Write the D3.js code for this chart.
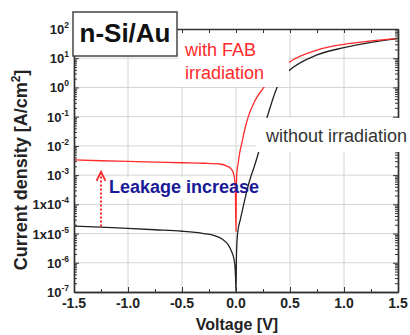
<!DOCTYPE html>
<html>
<head>
<meta charset="utf-8">
<script src="https://cdn.jsdelivr.net/npm/d3@7"></script>
<style>
  html, body { margin: 0; padding: 0; background: #fff; }
  svg text { font-family: "Liberation Sans", Arial, sans-serif; }
</style>
</head>
<body>
<svg id="chart" width="410" height="335"></svg>
<script>
// J–V curves of the n-Si/Au junction, |J| on a log axis
const voltageFab = [-1.5, -1.25, -1.0, -0.75, -0.5, -0.3, -0.15, -0.08, -0.05, -0.025, -0.012, -0.005, 0,
  0.003, 0.008, 0.02, 0.035, 0.053, 0.08, 0.114, 0.15, 0.18, 0.244, 0.3, 0.4, 0.5, 0.75, 1.0, 1.25, 1.5];
const currentFab = [3.3e-3, 3.1e-3, 2.95e-3, 2.8e-3, 2.65e-3, 2.55e-3, 2.4e-3, 2.0e-3, 1.7e-3, 1.2e-3, 7e-4, 2e-4, 1.2e-5,
  3e-4, 1.2e-3, 2.5e-3, 6e-3, 1.2e-2, 3.5e-2, 0.1, 0.22, 0.38, 0.86, 1.6, 3.8, 7.6, 19, 30, 39, 48];

const voltageRef = [-1.5, -1.25, -1.0, -0.75, -0.5, -0.3, -0.2, -0.13, -0.07, -0.04, -0.02, -0.01, -0.004, 0,
  0.004, 0.01, 0.02, 0.04, 0.062, 0.09, 0.114, 0.14, 0.17, 0.206, 0.25, 0.29, 0.33, 0.377, 0.43, 0.5, 0.75, 1.0, 1.25, 1.5];
const currentRef = [1.8e-5, 1.65e-5, 1.5e-5, 1.35e-5, 1.2e-5, 1.0e-5, 8.5e-6, 6.5e-6, 4e-6, 2.4e-6, 1.4e-6, 8e-7, 3e-7, 1e-7,
  1.5e-6, 6e-6, 1.4e-5, 3e-5, 7e-5, 2e-4, 4.5e-4, 9.5e-4, 2e-3, 5.5e-3, 2.4e-2, 0.1, 0.3, 0.93, 2.2, 4, 13, 23, 35, 47];

const xTickValues = [-1.5, -1.0, -0.5, 0.0, 0.5, 1.0, 1.5];
const xTickLabels = ["-1.5", "-1.0", "-0.5", "0.0", "0.5", "1.0", "1.5"];
const yTickValues = [1e2, 1e1, 1e0, 1e-1, 1e-2, 1e-3, 1e-4, 1e-5, 1e-6, 1e-7];
const yTickBases = ["10", "10", "10", "10", "10", "10", "1x10", "1x10", "10", "10"];
const yTickExps = ["2", "1", "0", "-1", "-2", "-3", "-4", "-5", "-6", "-7"];

const arrowVoltage = -1.25;
const arrowFrom = 1.75e-5;
const arrowTo = 1.3e-3;

const svg = d3.select("#chart");
const plotL = 74, plotR = 398, plotT = 29, plotB = 292;

const x = d3.scaleLinear().domain([-1.5, 1.5]).range([plotL, plotR]);
const y = d3.scaleLog().domain([1e-7, 1e2]).range([plotB, plotT]);

// grid
const grid = svg.append("g").attr("stroke", "#d4d4d4").attr("stroke-width", 1);
xTickValues.slice(1, -1).forEach(v => {
  grid.append("line").attr("x1", x(v)).attr("x2", x(v)).attr("y1", plotT).attr("y2", plotB);
});
yTickValues.slice(1, -1).forEach(v => {
  grid.append("line").attr("x1", plotL).attr("x2", plotR).attr("y1", y(v)).attr("y2", y(v));
});

// white backing for the leakage note
svg.append("rect").attr("x", 106).attr("y", 177).attr("width", 160).attr("height", 22).attr("fill", "#fff");

// curves
const line = d3.line().x(d => x(d[0])).y(d => y(d[1])).curve(d3.curveMonotoneX);
svg.append("path")
  .datum(d3.zip(voltageRef, currentRef))
  .attr("d", line).attr("fill", "none").attr("stroke", "#222").attr("stroke-width", 1.3);
svg.append("path")
  .datum(d3.zip(voltageFab, currentFab))
  .attr("d", line).attr("fill", "none").attr("stroke", "#ff2a2a").attr("stroke-width", 1.3);

// backing behind the "with FAB irradiation" note
svg.append("rect").attr("x", 178).attr("y", 30).attr("width", 111).attr("height", 57).attr("fill", "#fff");

// frame and ticks
const minorX = d3.range(-1.5, 1.5001, 0.25);
const minorY = [];
for (let e = -7; e < 2; e++) for (let m = 2; m <= 9; m++) minorY.push(m * Math.pow(10, e));

svg.append("g").attr("transform", `translate(0,${plotB})`)
  .call(d3.axisBottom(x).tickValues(minorX).tickSize(-3).tickSizeOuter(0).tickFormat(""));
svg.append("g").attr("transform", `translate(0,${plotB})`)
  .call(d3.axisBottom(x).tickValues(xTickValues).tickSize(-5).tickSizeOuter(0).tickFormat(""));
svg.append("g").attr("transform", `translate(0,${plotT})`)
  .call(d3.axisTop(x).tickValues(minorX).tickSize(-4).tickSizeOuter(0).tickFormat(""));
svg.append("g").attr("transform", `translate(${plotL},0)`)
  .call(d3.axisLeft(y).tickValues(minorY).tickSize(-3).tickSizeOuter(0).tickFormat(""));
svg.append("g").attr("transform", `translate(${plotL},0)`)
  .call(d3.axisLeft(y).tickValues(yTickValues).tickSize(-5).tickSizeOuter(0).tickFormat(""));
svg.append("g").attr("transform", `translate(${plotR},0)`)
  .call(d3.axisRight(y).tickValues(minorY).tickSize(-3).tickSizeOuter(0).tickFormat(""));
svg.append("g").attr("transform", `translate(${plotR},0)`)
  .call(d3.axisRight(y).tickValues(yTickValues).tickSize(-5).tickSizeOuter(0).tickFormat(""));
svg.selectAll(".domain").attr("stroke", "#333").attr("stroke-width", 1.4);
svg.selectAll(".tick line").attr("stroke", "#333").attr("stroke-width", 1);

// backing behind the "without irradiation" note
svg.append("rect").attr("x", 256).attr("y", 118).attr("width", 160).attr("height", 34).attr("fill", "#fff");

// sample label box
svg.append("rect").attr("x", 73).attr("y", 12).attr("width", 104).attr("height", 44)
  .attr("fill", "#fff").attr("stroke", "#444").attr("stroke-width", 1.5);
svg.append("text").attr("x", 125).attr("y", 42).attr("text-anchor", "middle")
  .attr("font-size", 26).attr("font-weight", "bold").attr("fill", "#111").text("n-Si/Au");

// tick labels
svg.append("g").selectAll("text").data(xTickValues).join("text")
  .attr("x", d => x(d)).attr("y", 308).attr("text-anchor", "middle")
  .attr("font-size", 14).attr("font-weight", "bold").attr("fill", "#222")
  .text((d, i) => xTickLabels[i]);

const yl = svg.append("g").selectAll("text").data(yTickValues).join("text")
  .attr("x", 69).attr("y", d => y(d) + 5).attr("text-anchor", "end")
  .attr("font-size", 13).attr("font-weight", "bold").attr("fill", "#222");
yl.append("tspan").text((d, i) => yTickBases[i]);
yl.append("tspan").attr("font-size", 8.5).attr("dy", -6).text((d, i) => yTickExps[i]);

// axis titles
svg.append("text").attr("x", 237).attr("y", 330).attr("text-anchor", "middle")
  .attr("font-size", 16).attr("font-weight", "bold").attr("fill", "#222").text("Voltage [V]");
const yt = svg.append("text").attr("transform", "translate(27,170) rotate(-90)")
  .attr("text-anchor", "middle").attr("font-size", 18).attr("font-weight", "bold").attr("fill", "#222");
yt.append("tspan").text("Current density [A/cm");
yt.append("tspan").attr("font-size", 12).attr("dy", -7).text("2");
yt.append("tspan").attr("dy", 7).text("]");

// notes
svg.append("text").attr("x", 185).attr("y", 56).attr("font-size", 18).attr("fill", "#ff2a2a").text("with FAB");
svg.append("text").attr("x", 185).attr("y", 79).attr("font-size", 18).attr("fill", "#ff2a2a").text("irradiation");
svg.append("text").attr("x", 266).attr("y", 142).attr("font-size", 18).attr("fill", "#333").text("without irradiation");
svg.append("text").attr("x", 109).attr("y", 193).attr("font-size", 18).attr("font-weight", "bold")
  .attr("fill", "#1a1a96").text("Leakage increase");

// dotted leakage arrow
const ax = x(arrowVoltage);
svg.append("line").attr("x1", ax).attr("x2", ax).attr("y1", y(arrowFrom)).attr("y2", y(arrowTo) + 2)
  .attr("stroke", "#ff2a2a").attr("stroke-width", 2).attr("stroke-dasharray", "2,2");
svg.append("path")
  .attr("d", `M${ax - 4.5},${y(arrowTo) + 9} L${ax},${y(arrowTo)} L${ax + 4.5},${y(arrowTo) + 9}`)
  .attr("fill", "none").attr("stroke", "#ff2a2a").attr("stroke-width", 1.8);
</script>
</body>
</html>
